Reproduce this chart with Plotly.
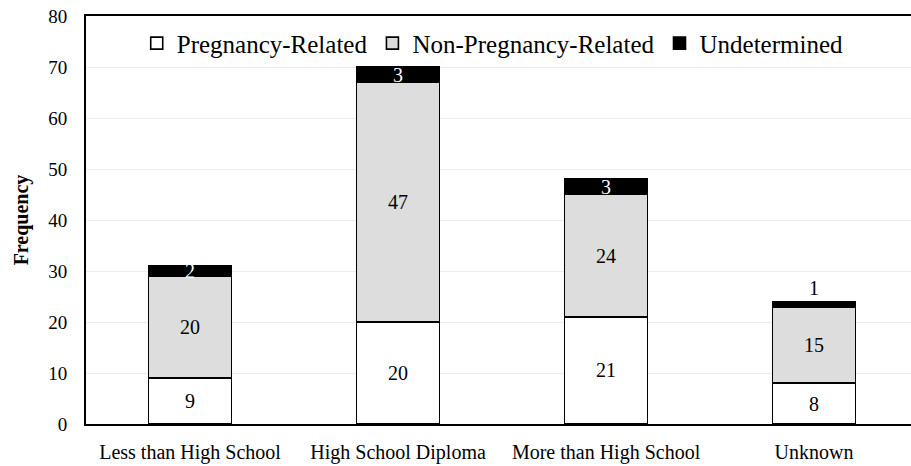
import plotly.graph_objects as go

categories = ["Less than High School", "High School Diploma", "More than High School", "Unknown"]
pregnancy_related = [9, 20, 21, 8]
non_pregnancy_related = [20, 47, 24, 15]
undetermined = [2, 3, 3, 1]
y_ticks = [0, 10, 20, 30, 40, 50, 60, 70, 80]

FONT = "Liberation Serif"

fig = go.Figure()
fig.add_trace(go.Bar(
    name="Pregnancy-Related", x=categories, y=pregnancy_related,
    marker=dict(color="white", line=dict(color="black", width=1.6)),
    text=pregnancy_related, textposition="inside", textangle=0, constraintext="none",
    insidetextanchor="middle", textfont=dict(color="black", size=20, family=FONT),
))
fig.add_trace(go.Bar(
    name="Non-Pregnancy-Related", x=categories, y=non_pregnancy_related,
    marker=dict(color="#dddddd", line=dict(color="black", width=1.6)),
    text=non_pregnancy_related, textposition="inside", textangle=0, constraintext="none",
    insidetextanchor="middle", textfont=dict(color="black", size=20, family=FONT),
))
fig.add_trace(go.Bar(
    name="Undetermined", x=categories, y=undetermined,
    marker=dict(color="black", line=dict(color="black", width=1.6)),
    text=undetermined, textposition=["inside", "inside", "inside", "outside"],
    textangle=0, constraintext="none", insidetextanchor="middle", cliponaxis=False,
    textfont=dict(color=["white", "white", "white", "black"], size=20, family=FONT),
))

fig.update_layout(
    template="none",
    width=911, height=466,
    margin=dict(l=86, r=0, t=16, b=42, autoexpand=False),
    barmode="stack", bargap=0.6,
    plot_bgcolor="white", paper_bgcolor="white",
    font=dict(family=FONT, size=19, color="black"),
    showlegend=True,
    legend=dict(orientation="h", x=0.493, xanchor="center", y=0.933, yanchor="middle",
                font=dict(size=25, family=FONT, color="black"),
                bgcolor="rgba(0,0,0,0)", traceorder="normal", itemwidth=30),
    xaxis=dict(range=[-0.5, 3.466], showline=True, linecolor="black", linewidth=1.8,
               mirror=True, ticks="", ticklabelstandoff=9, automargin=False,
               tickfont=dict(size=20, family=FONT, color="black"), showgrid=False),
    yaxis=dict(range=[0, 80], tickvals=y_ticks, showline=True, linecolor="black", linewidth=1.8,
               showgrid=True, gridcolor="#ececec", gridwidth=1, ticks="", ticklabelstandoff=13,
               automargin=False,
               tickfont=dict(size=19, family=FONT, color="black"), zeroline=False,
               title=dict(text="<b>Frequency</b>", font=dict(size=20, family=FONT, color="black"),
                          standoff=14)),
)

fig.write_html("out.html", config={"displayModeBar": False},
               post_script="document.body.style.margin='0';")
